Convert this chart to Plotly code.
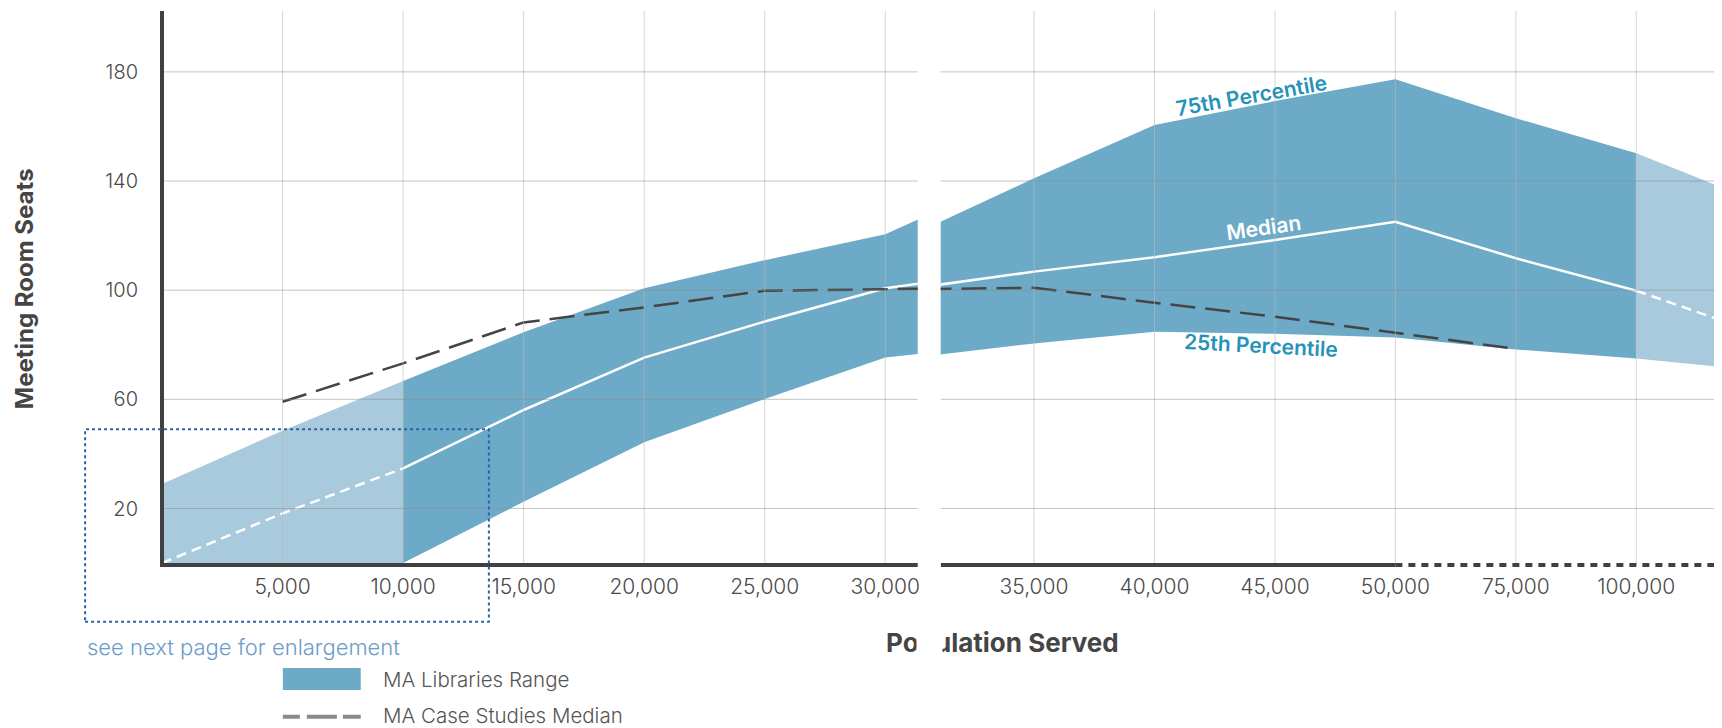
import plotly.graph_objects as go

# population categories (plotted at equal steps, axis broken after 30,000)
population = [0, 5000, 10000, 15000, 20000, 25000, 30000, 35000,
              40000, 45000, 50000, 75000, 100000, 125000]
pct75 = [29, 48.5, 66.7, 84.6, 100.7, 111.0, 120.5, 141.0,
         160.5, 169.3, 177.3, 163.0, 150.2, 132.5]
pct25 = [0, 0, 0, 22.5, 44.3, 60.1, 75.3, 80.5,
         84.8, 84.0, 82.7, 78.3, 75.0, 70.6]
median = [0, 18.2, 34.7, 56.1, 75.3, 88.5, 100.7, 106.8,
          112.1, 118.4, 125.1, 111.7, 99.8, 84.4]
case_median = [None, 59.1, 73.2, 88.2, 93.7, 99.8, 100.3, 100.9,
               95.4, 90.3, 84.4, 78.5, None, None]

left_ticks = [5000, 10000, 15000, 20000, 25000, 30000]
right_ticks = [35000, 40000, 45000, 50000, 75000, 100000]
y_ticks = [20, 60, 100, 140, 180]

range_start = 10000   # data shown solid between these populations
range_end = 100000
solid_axis_end = 50000

DARK = "rgb(109,170,199)"
LIGHT = "rgb(169,201,220)"
TXT = "#454545"
FONT = "Inter"

# the html page has an 8px body margin, so size the figure to fit the window
OFF = 8
W, H = 1722 - OFF, 728 - OFF
ML, MT = 162 - OFF, 11 - OFF
MB = H - (565 - OFF)
PW, PH = W - ML, H - MT - MB


def px(x):   # window pixel -> paper
    return (x - 162) / PW


def py(y):
    return (565 - y) / PH


pos = list(range(len(population)))
i0 = population.index(range_start)
i1 = population.index(range_end)

left_range = [0, 6.269]
right_range = [6.225, 12.695]
dom_left = [0, px(918.7)]
dom_right = [px(941.7), 1]

fig = go.Figure()


def add_panel(xa, ya):
    segs = [(slice(0, i0 + 1), LIGHT, "dash"),
            (slice(i0, i1 + 1), DARK, "solid"),
            (slice(i1, len(pos)), LIGHT, "dash")]
    for s, col, _ in segs:
        fig.add_trace(go.Scatter(x=pos[s], y=pct25[s], mode="lines", line=dict(width=0),
                                 xaxis=xa, yaxis=ya, showlegend=False, hoverinfo="skip"))
        fig.add_trace(go.Scatter(x=pos[s], y=pct75[s], mode="lines", line=dict(width=0),
                                 fill="tonexty", fillcolor=col,
                                 xaxis=xa, yaxis=ya, showlegend=False, hoverinfo="skip"))
    for s, _, dash in segs:
        fig.add_trace(go.Scatter(x=pos[s], y=median[s], mode="lines",
                                 line=dict(color="white", width=2.5,
                                           dash="10px,6px" if dash == "dash" else "solid"),
                                 xaxis=xa, yaxis=ya, showlegend=False, hoverinfo="skip"))
    fig.add_trace(go.Scatter(x=pos, y=case_median, mode="lines",
                             line=dict(color="#444444", width=2.5, dash="25px,10px"),
                             xaxis=xa, yaxis=ya, showlegend=False, hoverinfo="skip"))


add_panel("x", "y")
add_panel("x2", "y2")

shapes = []
# gridlines drawn on top of the band, semi-transparent
for xa, ticks in (("x", left_ticks), ("x2", right_ticks)):
    for t in ticks:
        p = population.index(t)
        shapes.append(dict(type="line", xref=xa, yref="paper", x0=p, x1=p, y0=0, y1=1,
                           line=dict(color="rgba(185,185,185,0.6)", width=1), layer="above"))
    for v in y_ticks:
        shapes.append(dict(type="line", xref=xa + " domain", yref="y", x0=0, x1=1, y0=v, y1=v,
                           line=dict(color="rgba(140,140,140,0.5)", width=1), layer="above"))

# axis lines
shapes.append(dict(type="line", xref="paper", yref="paper", x0=0, x1=0, y0=-2 / PH, y1=1,
                   line=dict(color="#404040", width=4), layer="above"))
shapes.append(dict(type="line", xref="paper", yref="paper", x0=-2 / PW, x1=dom_left[1], y0=0, y1=0,
                   line=dict(color="#404040", width=4), layer="above"))
p50 = population.index(solid_axis_end)
shapes.append(dict(type="line", xref="x2", yref="paper", x0=right_range[0], x1=p50, y0=0, y1=0,
                   line=dict(color="#404040", width=4), layer="above"))
shapes.append(dict(type="line", xref="x2", yref="paper", x0=p50, x1=right_range[1], y0=0, y1=0,
                   line=dict(color="#404040", width=4, dash="7px,6px"), layer="above"))

# dotted enlargement box
shapes.append(dict(type="rect", xref="paper", yref="paper",
                   x0=px(85), x1=px(489.3), y0=py(621.7), y1=py(429.3),
                   line=dict(color="#2a62a6", width=2, dash="dot"), layer="above"))

# manual legend
shapes.append(dict(type="rect", xref="paper", yref="paper",
                   x0=px(283), x1=px(361), y0=py(690), y1=py(668),
                   fillcolor=DARK, line=dict(width=0)))
shapes.append(dict(type="line", xref="paper", yref="paper",
                   x0=px(283), x1=px(361), y0=py(716.7), y1=py(716.7),
                   line=dict(color="#8a8a8a", width=4, dash="17px,7px,30px,6px,18px")))


def note(text, x, y, size, color, weight=400, xanchor="center", **kw):
    return dict(text=text, xref="paper", yref="paper", x=px(x), y=py(y),
                xanchor=xanchor, yanchor="middle", showarrow=False,
                font=dict(family=FONT, size=size, color=color, weight=weight), **kw)


annotations = [
    note("Meeting Room Seats", 24, 289, 24, TXT, 700, textangle=-90),
    note("Population Served", 1004, 642, 26, TXT, 700),
    # the axis break also cuts through the title
    note(" ", 930.2, 642, 10, TXT, width=23, height=40, bgcolor="white"),
    note("see next page for enlargement", 85, 646.7, 22, "#6b9bc8", 300, xanchor="left"),
    note("MA Libraries Range", 381.7, 679, 20.5, "#555555", 300, xanchor="left"),
    note("MA Case Studies Median", 381.7, 716, 20.5, "#555555", 300, xanchor="left"),
    dict(text="75th Percentile", xref="x2", yref="y", x=8.806, y=171.5, textangle=-10,
         showarrow=False, font=dict(family=FONT, size=21, color="#2593b8", weight=600)),
    dict(text="Median", xref="x2", yref="y", x=8.906, y=122.9, textangle=-8,
         showarrow=False, font=dict(family=FONT, size=21, color="white", weight=600)),
    dict(text="25th Percentile", xref="x2", yref="y", x=8.885, y=79.9, textangle=3,
         showarrow=False, font=dict(family=FONT, size=21, color="#2593b8", weight=600)),
]

xcommon = dict(showgrid=False, zeroline=False, showline=False, ticks="",
               tickfont=dict(family=FONT, size=21, color="#4a4a4a", weight=300),
               ticklabelstandoff=7)
ycommon = dict(range=[-0.7, 202.3], tickvals=y_ticks, showgrid=False, zeroline=False,
               showline=False, ticks="")

fig.update_layout(
    width=W, height=H,
    margin=dict(l=ML, r=0, t=MT, b=MB),
    plot_bgcolor="white", paper_bgcolor="white",
    xaxis=dict(domain=dom_left, range=left_range, anchor="y",
               tickvals=[population.index(t) for t in left_ticks],
               ticktext=[f"{t:,}" for t in left_ticks], **xcommon),
    xaxis2=dict(domain=dom_right, range=right_range, anchor="y2",
                tickvals=[population.index(t) for t in right_ticks],
                ticktext=[f"{t:,}" for t in right_ticks], **xcommon),
    yaxis=dict(anchor="x", tickfont=dict(family=FONT, size=20, color="#4a4a4a", weight=300),
               ticklabelstandoff=23, **ycommon),
    yaxis2=dict(anchor="x2", matches="y", showticklabels=False, **ycommon),
    shapes=shapes,
    annotations=annotations,
    showlegend=False,
)

fig.write_html("out.html")
